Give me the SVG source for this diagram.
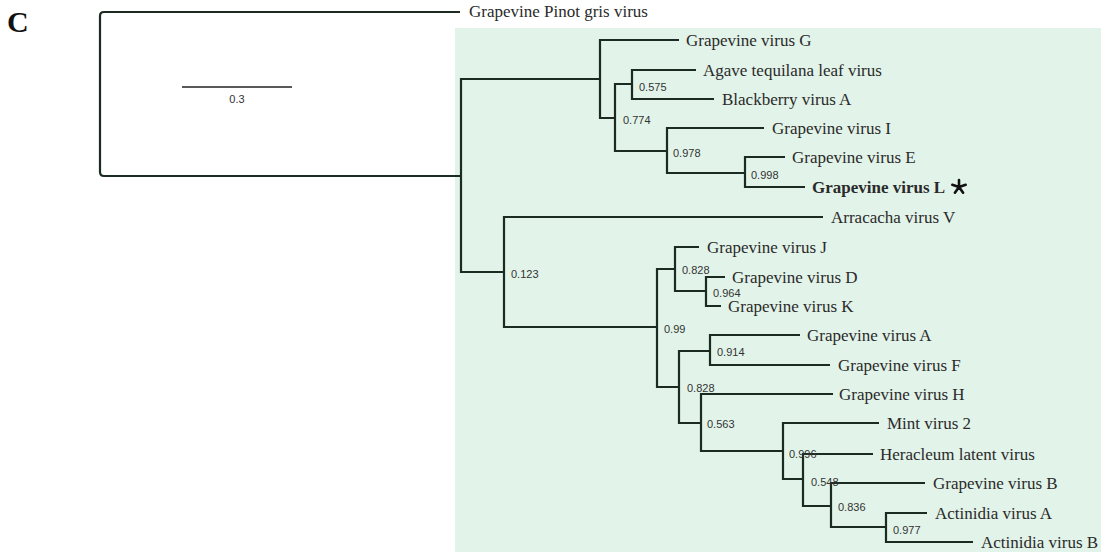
<svg xmlns="http://www.w3.org/2000/svg" width="1101" height="552" viewBox="0 0 1101 552">
<style>
.br{fill:none;stroke:#1c2b22;stroke-width:2.2;stroke-linejoin:miter;stroke-linecap:butt}
.tx{font-family:"Liberation Serif",serif;font-size:17px;fill:#2a2a2a}
.bs{font-family:"Liberation Sans",sans-serif;font-size:11px;fill:#333}
</style>
<rect x="455" y="28" width="646" height="524" fill="#e2f3e9"/>
<text x="7" y="32" font-family="Liberation Serif,serif" font-weight="bold" font-size="30" fill="#111">C</text>
<g id="scalebar">
<line x1="182" y1="87" x2="292" y2="87" stroke="#222" stroke-width="1.6"/>
<text x="237" y="103" text-anchor="middle" class="bs">0.3</text>
</g>
<g id="connectors">
<path class="br" d="M460 12H104Q100 12 100 16V172Q100 176 104 176H461"/>
<path class="br" d="M600 79H461V272H504"/>
<path class="br" d="M679 40H600V118H615"/>
<path class="br" d="M632 84H615V151H667"/>
<path class="br" d="M696 70H632V99H714"/>
<path class="br" d="M764 128H667V173H745"/>
<path class="br" d="M785 157H745V187H805"/>
<path class="br" d="M823 217H504V327H657"/>
<path class="br" d="M675 269H657V387H679"/>
<path class="br" d="M699 247H675V291H706"/>
<path class="br" d="M725 277H706V306H721"/>
<path class="br" d="M710 351H679V423H701"/>
<path class="br" d="M800 335H710V365H830"/>
<path class="br" d="M833 394H701V451H783"/>
<path class="br" d="M879 423H783V479H803"/>
<path class="br" d="M873 454H803V506H831"/>
<path class="br" d="M925 483H831V527H886"/>
<path class="br" d="M927 513H886V542H973"/>
</g>
<g id="support">
<text class="bs" x="639" y="91">0.575</text>
<text class="bs" x="623" y="124">0.774</text>
<text class="bs" x="673" y="157">0.978</text>
<text class="bs" x="751" y="179">0.998</text>
<text class="bs" x="511" y="278">0.123</text>
<text class="bs" x="664" y="333">0.99</text>
<text class="bs" x="682" y="274">0.828</text>
<text class="bs" x="713" y="297">0.964</text>
<text class="bs" x="717" y="356">0.914</text>
<text class="bs" x="687" y="392">0.828</text>
<text class="bs" x="707" y="428">0.563</text>
<text class="bs" x="789" y="458">0.996</text>
<text class="bs" x="811" y="486">0.548</text>
<text class="bs" x="838" y="511">0.836</text>
<text class="bs" x="893" y="534">0.977</text>
</g>
<g id="leaf-pinot"><text class="tx" x="469" y="17">Grapevine Pinot gris virus</text></g>
<g id="leaf-gvg"><text class="tx" x="686" y="45.5">Grapevine virus G</text></g>
<g id="leaf-agave"><text class="tx" x="703" y="75.5">Agave tequilana leaf virus</text></g>
<g id="leaf-bva"><text class="tx" x="722" y="104.5">Blackberry virus A</text></g>
<g id="leaf-gvi"><text class="tx" x="772" y="133.5">Grapevine virus I</text></g>
<g id="leaf-gve"><text class="tx" x="792" y="162.5">Grapevine virus E</text></g>
<g id="leaf-gvl"><text class="tx" x="812" y="192.5" font-weight="bold">Grapevine virus L</text>
<path d="M959 187V180M959 187L952.3 184.8M959 187L965.7 184.8M959 187L954.9 192.7M959 187L963.1 192.7" stroke="#111" stroke-width="2.6" stroke-linecap="round"/></g>
<g id="leaf-arv"><text class="tx" x="831" y="222.5">Arracacha virus V</text></g>
<g id="leaf-gvj"><text class="tx" x="707" y="252.5">Grapevine virus J</text></g>
<g id="leaf-gvd"><text class="tx" x="732" y="282.5">Grapevine virus D</text></g>
<g id="leaf-gvk"><text class="tx" x="728" y="311.5">Grapevine virus K</text></g>
<g id="leaf-gva"><text class="tx" x="807" y="340.5">Grapevine virus A</text></g>
<g id="leaf-gvf"><text class="tx" x="838" y="370.5">Grapevine virus F</text></g>
<g id="leaf-gvh"><text class="tx" x="839" y="399.5">Grapevine virus H</text></g>
<g id="leaf-mint"><text class="tx" x="887" y="428.5">Mint virus 2</text></g>
<g id="leaf-hlv"><text class="tx" x="880" y="459.5">Heracleum latent virus</text></g>
<g id="leaf-gvb"><text class="tx" x="933" y="488.5">Grapevine virus B</text></g>
<g id="leaf-ava"><text class="tx" x="935" y="518.5">Actinidia virus A</text></g>
<g id="leaf-avb"><text class="tx" x="981" y="547.5">Actinidia virus B</text></g>
</svg>
